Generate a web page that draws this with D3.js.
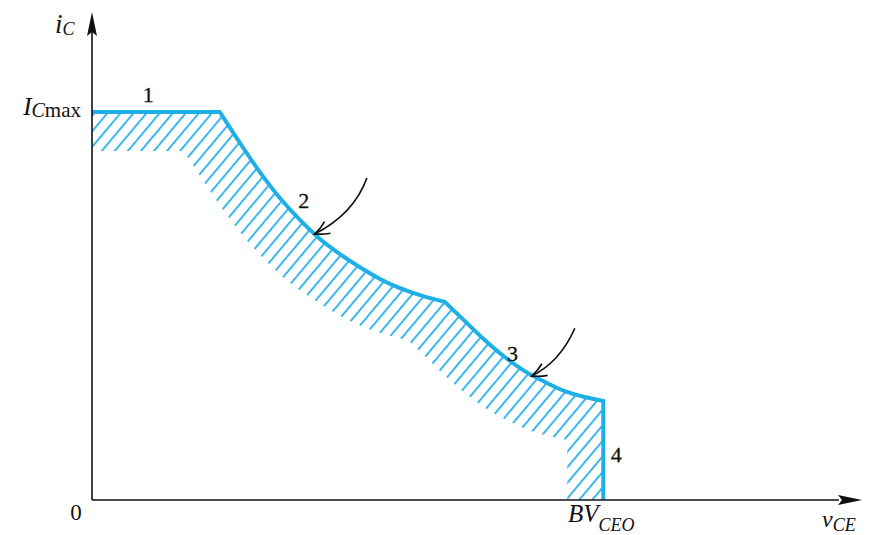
<!DOCTYPE html>
<html>
<head>
<meta charset="utf-8">
<script src="https://cdn.jsdelivr.net/npm/d3@7"></script>
<style>
  html, body { margin: 0; padding: 0; background: #fff; }
  svg { display: block; }
  text { font-family: "Liberation Serif", "DejaVu Serif", serif; fill: #111; }
</style>
</head>
<body>
<svg id="chart" width="873" height="535"></svg>
<script>
// Safe operating area boundary (v_CE, i_C), arbitrary units 0..100
const seg1 = [[0, 79.5], [16.6, 79.5]];                       // I_Cmax limit
const seg2 = [[16.6, 79.5], [19.2, 73.2], [21.8, 67.2], [24.4, 61.9], [27.0, 57.4],
              [29.6, 53.5], [32.2, 50.4], [34.8, 47.7], [37.4, 45.3], [40.0, 43.4],
              [42.6, 42.0], [45.8, 40.6]];                      // power dissipation limit
const seg3 = [[45.8, 40.6], [48.4, 36.7], [51.0, 32.8], [53.6, 29.3], [56.2, 26.4],
              [58.8, 24.2], [61.4, 22.3], [64.0, 21.1], [66.4, 20.3]]; // second breakdown
const seg4 = [[66.4, 20.3], [66.4, 0]];                         // BV_CEO limit
const segLabels = ["1", "2", "3", "4"];
const labelPos = [[7.3, 81.6], [27.5, 59.8], [54.6, 28.5], [68.1, 7.8]];
const arrows = [
  { from: [35.7, 66.0], ctrl: [34.0, 58.6], to: [28.9, 54.5] },
  { from: [62.7, 35.2], ctrl: [60.8, 28.3], to: [57.1, 25.4] }
];
const BVCEO = 66.4, ICMAX = 79.5;

const svg = d3.select("#chart");
const x = d3.scaleLinear().domain([0, 100]).range([92, 862]);
const y = d3.scaleLinear().domain([0, 100]).range([500, 12]);
const blue = "#1eafe6";

const straight = d3.line().x(d => x(d[0])).y(d => y(d[1]));
const smooth = d3.line().x(d => x(d[0])).y(d => y(d[1])).curve(d3.curveMonotoneX);
const segPaths = [straight(seg1), smooth(seg2), smooth(seg3), straight(seg4)];
// one continuous boundary path
const boundary = segPaths.map((p, i) => i ? p.replace(/^M/, "L") : p).join("");
const region = boundary + "L" + x(0) + "," + y(0) + "Z";

const defs = svg.append("defs");
const pat = defs.append("pattern")
  .attr("id", "hatch").attr("patternUnits", "userSpaceOnUse")
  .attr("width", 10).attr("height", 10)
  .attr("patternTransform", "rotate(40)");
pat.append("line").attr("x1", 5).attr("y1", 0).attr("x2", 5).attr("y2", 10)
  .attr("stroke", "#3ab8ec").attr("stroke-width", 2);

// hatched band: area under the boundary minus the same area shifted down-left
const mask = defs.append("mask").attr("id", "band")
  .attr("maskUnits", "userSpaceOnUse").attr("x", 0).attr("y", 0).attr("width", 873).attr("height", 535);
mask.append("path").attr("d", region).attr("fill", "#fff");
mask.append("path").attr("d", region).attr("fill", "#000").attr("transform", "translate(-36,39)");

svg.append("rect").attr("x", x(0)).attr("y", y(100)).attr("width", x(100) - x(0)).attr("height", y(0) - y(100))
  .attr("fill", "url(#hatch)").attr("mask", "url(#band)");

svg.append("path").attr("d", boundary).attr("fill", "none")
  .attr("stroke", blue).attr("stroke-width", 4).attr("stroke-linejoin", "miter");

// axes with arrowheads
const ink = "#111";
svg.append("line").attr("x1", x(0)).attr("y1", y(0)).attr("x2", x(0)).attr("y2", y(97))
  .attr("stroke", ink).attr("stroke-width", 1.6);
svg.append("line").attr("x1", x(0)).attr("y1", y(0)).attr("x2", x(97)).attr("y2", y(0))
  .attr("stroke", ink).attr("stroke-width", 1.6);
svg.append("path").attr("fill", ink)
  .attr("d", `M${x(0)},${y(100)}L${x(0) + 5},${y(100) + 24}L${x(0)},${y(100) + 20}L${x(0) - 5},${y(100) + 24}Z`);
svg.append("path").attr("fill", ink)
  .attr("d", `M${x(100)},${y(0)}L${x(100) - 24},${y(0) - 5}L${x(100) - 20},${y(0)}L${x(100) - 24},${y(0) + 5}Z`);

// pointer arrows to segments 2 and 3
arrows.forEach(a => {
  const p0 = [x(a.from[0]), y(a.from[1])], c = [x(a.ctrl[0]), y(a.ctrl[1])], p1 = [x(a.to[0]), y(a.to[1])];
  svg.append("path").attr("d", `M${p0}Q${c} ${p1}`).attr("fill", "none")
    .attr("stroke", ink).attr("stroke-width", 1.7);
  const ang = Math.atan2(p1[1] - c[1], p1[0] - c[0]);
  const L = 16, spread = 0.42;
  const w1 = [p1[0] - L * Math.cos(ang - spread), p1[1] - L * Math.sin(ang - spread)];
  const w2 = [p1[0] - L * Math.cos(ang + spread), p1[1] - L * Math.sin(ang + spread)];
  svg.append("path").attr("d", `M${w1}Q${(p1[0] + w1[0]) / 2 + 1},${(p1[1] + w1[1]) / 2 + 1} ${p1}Q${(p1[0] + w2[0]) / 2 + 1},${(p1[1] + w2[1]) / 2 + 1} ${w2}`)
    .attr("fill", "none").attr("stroke", ink).attr("stroke-width", 1.7).attr("stroke-linejoin", "miter");
});

// segment numbers
svg.selectAll("text.seg").data(segLabels).enter().append("text")
  .attr("class", "seg")
  .attr("x", (d, i) => x(labelPos[i][0])).attr("y", (d, i) => y(labelPos[i][1]))
  .attr("text-anchor", "middle").attr("font-size", 22)
  .attr("stroke", "#111").attr("stroke-width", 0.3).text(d => d);

// origin
svg.append("text").attr("x", 76).attr("y", 520).attr("text-anchor", "middle").attr("font-size", 23).text("0");

// axis titles
const iC = svg.append("text").attr("x", 55).attr("y", 33);
iC.append("tspan").attr("font-style", "italic").attr("font-size", 27).text("i");
iC.append("tspan").attr("font-style", "italic").attr("font-size", 18).attr("dy", 2).text("C");

const vCE = svg.append("text").attr("x", 822).attr("y", 527);
vCE.append("tspan").attr("font-style", "italic").attr("font-size", 24).text("v");
vCE.append("tspan").attr("font-style", "italic").attr("font-size", 18).attr("dy", 4).text("CE");

// limit labels
const icm = svg.append("text").attr("x", 81).attr("y", 115).attr("text-anchor", "end");
icm.append("tspan").attr("font-style", "italic").attr("font-size", 25).text("I");
icm.append("tspan").attr("font-style", "italic").attr("font-size", 20).attr("dy", 2).text("C");
icm.append("tspan").attr("font-size", 21).text("max");

const bv = svg.append("text").attr("x", x(BVCEO) - 2).attr("y", 522).attr("text-anchor", "middle");
bv.append("tspan").attr("font-style", "italic").attr("font-size", 25).text("BV");
bv.append("tspan").attr("font-style", "italic").attr("font-size", 18).attr("dy", 9).text("CEO");
</script>
</body>
</html>
